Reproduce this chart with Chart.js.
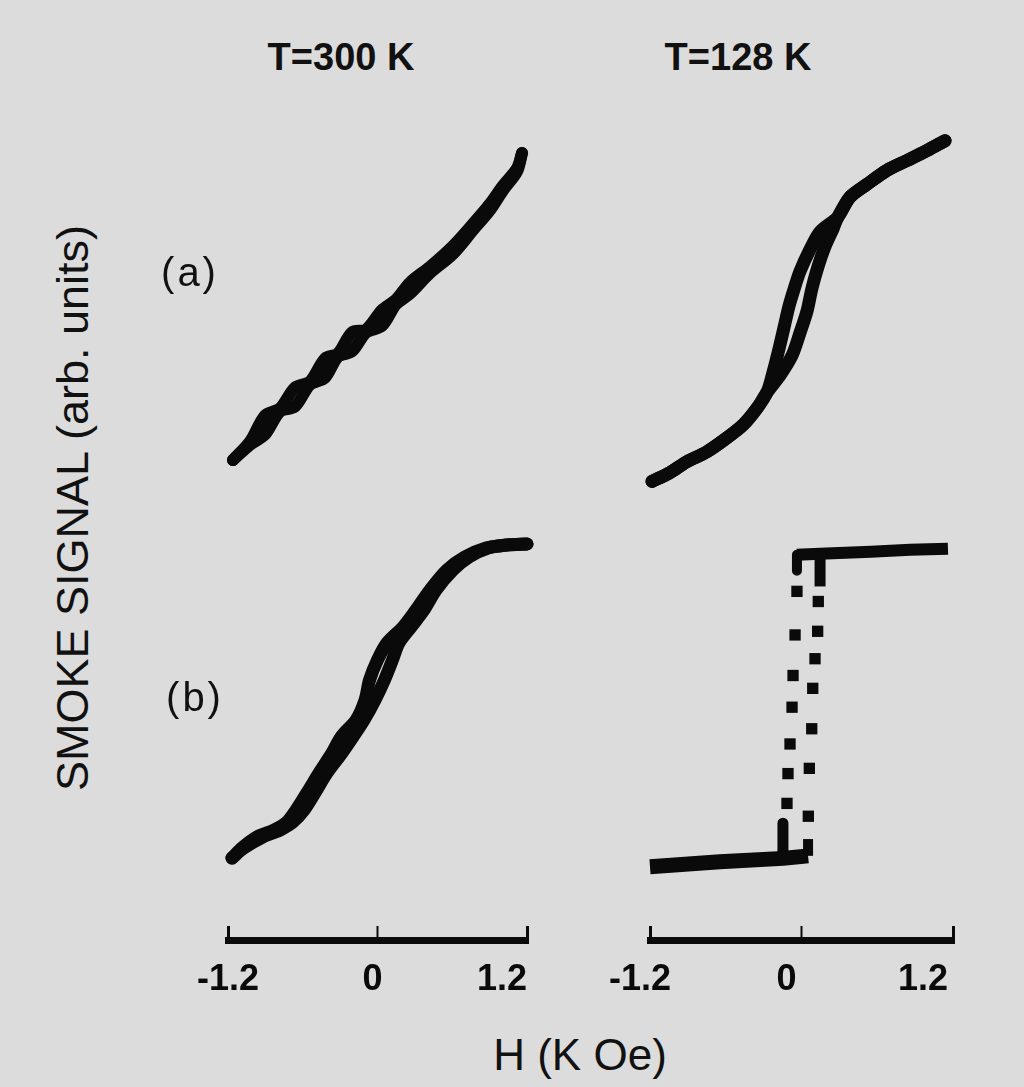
<!DOCTYPE html>
<html>
<head>
<meta charset="utf-8">
<script src="https://cdn.jsdelivr.net/npm/chart.js@4.4.1/dist/chart.umd.min.js"></script>
<style>
  html, body { margin: 0; padding: 0; background: #dcdcdc; }
  body { width: 1024px; height: 1087px; position: relative; overflow: hidden;
         font-family: 'Liberation Sans', Arial, Helvetica, sans-serif; color: #111; }
  canvas { position: absolute; }
  .lbl { position: absolute; white-space: pre; line-height: 1; }
</style>
</head>
<body>
<canvas id="col300" width="380" height="904" style="left:188px;top:100px"></canvas>
<canvas id="col128" width="393" height="904" style="left:600px;top:100px"></canvas>
<script>
// ---------- texts ----------
const columnTitles = ['T=300 K', 'T=128 K'];
const rowLabels = ['(a)', '(b)'];
const yAxisTitle = 'SMOKE SIGNAL (arb. units)';
const xAxisTitle = 'H (K Oe)';

// ---------- field axis (kOe) ----------
const xTicks = [-1.2, 0, 1.2];
const xTickLabels = ['-1.2', '0', '1.2'];

// ---------- T = 300 K, panel (a) ----------
const t300a_H = [-1.160, -1.023, -0.903, -0.783, -0.662, -0.542, -0.421, -0.317, -0.205, -0.092,
                 0.036, 0.149, 0.261, 0.421, 0.606, 0.767, 0.903, 1.007, 1.120, 1.160];
const t300a_S_down = [-0.969, -0.853, -0.690, -0.646, -0.515, -0.478, -0.334, -0.303, -0.171, -0.153,
                      -0.031, 0.034, 0.141, 0.239, 0.369, 0.508, 0.633, 0.746, 0.854, 0.950];
const t300a_S_up = [-0.969, -0.873, -0.810, -0.666, -0.635, -0.498, -0.454, -0.323, -0.291, -0.173,
                    -0.131, 0.004, 0.071, 0.199, 0.319, 0.468, 0.593, 0.716, 0.834, 0.950];

// ---------- T = 300 K, panel (b) ----------
const t300b_S = [-0.988, -0.925, -0.856, -0.813, -0.763, -0.688, -0.581, -0.456, -0.331, -0.231, -0.125, 0.000,
                 0.125, 0.250, 0.356, 0.456, 0.563, 0.688, 0.813, 0.894, 0.950, 0.969, 0.975];
const t300b_H_down = [-1.168, -1.088, -0.967, -0.831, -0.727, -0.654, -0.567, -0.469, -0.365, -0.293, -0.172, -0.100,
                      -0.064, 0.000, 0.076, 0.205, 0.309, 0.422, 0.558, 0.702, 0.871, 1.040, 1.200];
const t300b_H_up = [-1.168, -1.072, -0.919, -0.783, -0.679, -0.590, -0.503, -0.405, -0.285, -0.197, -0.108, -0.020,
                    0.056, 0.120, 0.172, 0.269, 0.373, 0.470, 0.606, 0.734, 0.887, 1.040, 1.200];

// ---------- T = 128 K, panel (a) ----------
const t128a_H_down = [-1.184, -1.042, -0.907, -0.749, -0.590, -0.463, -0.352, -0.273, -0.226, -0.178, -0.139, -0.099,
                      -0.059, -0.012, 0.067, 0.147, 0.289, 0.384, 0.519, 0.677, 0.836, 0.994, 1.137];
const t128a_S_down = [-1.075, -1.019, -0.950, -0.888, -0.800, -0.719, -0.613, -0.513, -0.388, -0.238, -0.106, 0.031,
                      0.138, 0.250, 0.388, 0.500, 0.594, 0.719, 0.800, 0.888, 0.950, 1.013, 1.075];
const t128a_H_up = [-1.184, -1.042, -0.907, -0.749, -0.590, -0.463, -0.352, -0.273, -0.170, -0.075, -0.012, 0.044,
                    0.083, 0.131, 0.186, 0.250, 0.289, 0.384, 0.519, 0.677, 0.836, 0.994, 1.137];
const t128a_S_up = [-1.075, -1.019, -0.950, -0.888, -0.800, -0.719, -0.613, -0.513, -0.406, -0.281, -0.138, 0.000,
                    0.144, 0.281, 0.406, 0.519, 0.594, 0.719, 0.800, 0.888, 0.950, 1.013, 1.075];

// ---------- T = 128 K, panel (b) (square loop) ----------
const t128b_high_H = [-0.036, 0.147, 0.550, 0.860, 1.160];
const t128b_high_S = [0.931, 0.938, 0.950, 0.962, 0.969];
const t128b_low_H = [-1.200, -0.646, -0.147, 0.052];
const t128b_low_S = [-1.038, -1.006, -0.985, -0.969];
const t128b_downStart_H = [-0.036, -0.036];
const t128b_downStart_S = [0.931, 0.830];
const t128b_downEnd_H = [-0.147, -0.147];
const t128b_downEnd_S = [-0.763, -0.985];
const t128b_upStart_H = [0.052, 0.052];
const t128b_upStart_S = [-0.969, -0.863];
const t128b_upEnd_H = [0.147, 0.147];
const t128b_upEnd_S = [0.731, 0.938];
const t128b_downDots_H = [-0.036, -0.051, -0.067, -0.075, -0.091, -0.107, -0.115];
const t128b_downDots_S = [0.700, 0.425, 0.169, -0.031, -0.263, -0.450, -0.638];
const t128b_upDots_H = [0.133, 0.128, 0.107, 0.089, 0.081, 0.062, 0.054];
const t128b_upDots_S = [0.636, 0.448, 0.275, 0.088, -0.167, -0.417, -0.719];

// ---------- drawing ----------
const FONT = "'Liberation Sans', Arial, Helvetica, sans-serif";
const INK = '#0a0a0a';

function pts(H, S) { return H.map((h, i) => ({ x: h, y: S[i] })); }

function curve(H, S, axis, width, tension, cap) {
  return {
    data: pts(H, S), xAxisID: 'x', yAxisID: axis, showLine: true, fill: false,
    borderColor: INK, backgroundColor: INK, borderWidth: width, pointRadius: 0,
    tension: tension, borderCapStyle: cap || 'round', borderJoinStyle: 'round', clip: false
  };
}
function dots(H, S, axis, r) {
  return {
    data: pts(H, S), xAxisID: 'x', yAxisID: axis, showLine: false,
    pointStyle: 'rect', pointRadius: r, pointBorderWidth: 0,
    backgroundColor: INK, borderColor: INK, clip: false
  };
}

function makeColumn(id, padL, padR, shifts, datasets) {
  return new Chart(document.getElementById(id).getContext('2d'), {
    type: 'scatter',
    data: { datasets: datasets },
    options: {
      responsive: false, animation: false, events: [], devicePixelRatio: 1,
      layout: { padding: { left: padL, right: padR, top: 0, bottom: 0 } },
      plugins: { legend: { display: false }, tooltip: { enabled: false }, title: { display: false } },
      scales: {
        x: {
          type: 'linear', position: 'bottom', min: -1.2, max: 1.2,
          afterBuildTicks: (s) => { s.ticks = xTicks.map(v => ({ value: v })); },
          afterFit: (s) => { s.height = 64; s.paddingLeft = 0; s.paddingRight = 0; },
          border: { display: true, width: 7, color: INK },
          grid: { display: true, drawOnChartArea: false, drawTicks: true, tickLength: -14,
                  color: INK, tickColor: INK, lineWidth: 3,
                  tickWidth: (c) => (c.index === 1 ? 2 : 3) },
          ticks: {
            color: INK, padding: 32, autoSkip: false, maxRotation: 0, minRotation: 0,
            font: { family: FONT, size: 36, weight: 'bold', lineHeight: 1.2 },
            callback: (v, i) => xTickLabels[i] + ' '.repeat(shifts[i])
          }
        },
        y: { display: false },
        yA: { type: 'linear', display: false, min: -3.96875, max: 1.28125 },
        yB: { type: 'linear', display: false, min: -1.5, max: 3.75 }
      }
    }
  });
}

makeColumn('col300', 40, 41, [0, 1, 5], [
  curve(t300a_H, t300a_S_down, 'yA', 12, 0.3),
  curve(t300a_H, t300a_S_up, 'yA', 12, 0.3),
  curve(t300b_H_down, t300b_S, 'yB', 13, 0.3),
  curve(t300b_H_up, t300b_S, 'yB', 13, 0.3)
]);

makeColumn('col128', 50, 40, [2, 3, 6], [
  curve(t128a_H_down, t128a_S_down, 'yA', 13, 0.3),
  curve(t128a_H_up, t128a_S_up, 'yA', 13, 0.3),
  curve(t128b_high_H, t128b_high_S, 'yB', 12, 0, 'butt'),
  curve(t128b_low_H, t128b_low_S, 'yB', 15, 0, 'butt'),
  curve(t128b_downStart_H, t128b_downStart_S, 'yB', 10, 0, 'butt'),
  curve(t128b_downEnd_H, t128b_downEnd_S, 'yB', 11, 0, 'butt'),
  curve(t128b_upStart_H, t128b_upStart_S, 'yB', 10, 0, 'butt'),
  curve(t128b_upEnd_H, t128b_upEnd_S, 'yB', 11, 0, 'butt'),
  dots(t128b_downDots_H, t128b_downDots_S, 'yB', 8),
  dots(t128b_upDots_H, t128b_upDots_S, 'yB', 8)
]);

// ---------- text labels ----------
function addText(text, x, y, size, weight, rotate, spacing) {
  const d = document.createElement('div');
  d.className = 'lbl';
  d.textContent = text;
  d.style.left = x + 'px';
  d.style.top = y + 'px';
  d.style.fontSize = size + 'px';
  d.style.fontWeight = weight;
  if (spacing) d.style.letterSpacing = spacing + 'px';
  d.style.transform = 'translate(-50%,-50%)' + (rotate ? ' rotate(' + rotate + 'deg)' : '');
  document.body.appendChild(d);
}
addText(columnTitles[0], 341, 57, 38, 'bold');
addText(columnTitles[1], 738, 57, 38, 'bold');
addText(rowLabels[0], 190, 272, 40, 'normal', 0, 3);
addText(rowLabels[1], 195, 697, 40, 'normal', 0, 3);
addText(yAxisTitle, 72, 508, 45, 'normal', -90);
addText(xAxisTitle, 580, 1055, 44, 'normal');
</script>
</body>
</html>
